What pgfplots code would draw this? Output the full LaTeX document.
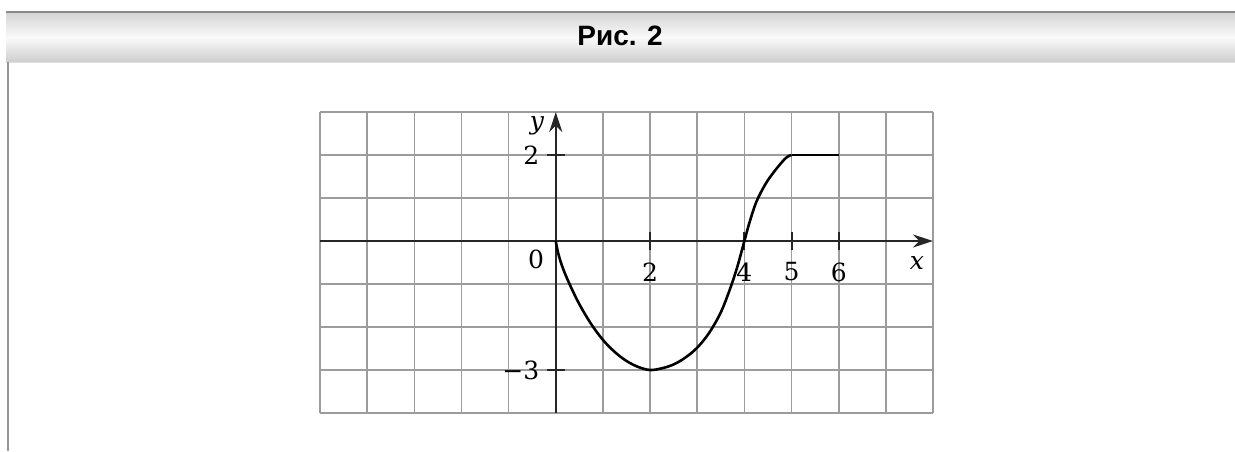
\documentclass[border=0pt]{standalone}
\usepackage{fontspec}
\usepackage{pgfplots}
\pgfplotsset{compat=1.18}
\usetikzlibrary{arrows.meta}
\newfontfamily\headfont{Liberation Sans}
\newfontfamily\lblfont{DejaVu Serif}
\definecolor{gridgray}{HTML}{9C9C9C}
\definecolor{barline}{HTML}{8A8A8A}
\begin{document}
\begin{tikzpicture}[x=1pt,y=1pt]
\path[use as bounding box] (0,0) rectangle (1235,451);
% header bar
\shade[top color=black!17, bottom color=black!20, middle color=black!2] (6,388) rectangle (1235,439);
\draw[barline, line width=2pt] (6,439) -- (1235,439);
\draw[black!12, line width=1pt] (6,388) -- (1235,388);
\draw[barline!90, line width=2pt] (8,389) -- (8,0);
\node[anchor=base, font=\headfont\bfseries\fontsize{28}{30}\selectfont] at (620,405) {Рис. 2};
\begin{axis}[
  at={(320pt,38pt)}, anchor=south west,
  scale only axis, width=613pt, height=301pt,
  xmin=-5, xmax=8, ymin=-4, ymax=3,
  axis lines=middle,
  axis line style={line width=2.2pt, black!85, -{Stealth[length=20pt,width=13pt]}},
  xtick={-5,...,8}, ytick={-4,...,3},
  xticklabels={}, yticklabels={},
  major tick length=0pt,
  grid=major,
  major grid style={gridgray, line width=1.6pt},
  extra x ticks={2,4,5,6},
  extra x tick labels={2,4,5,6},
  extra y ticks={-3,2},
  extra y tick labels={−3,2},
  extra tick style={grid=none, major tick length=18pt, tick style={line width=2pt, black!85}},
  xticklabel style={font=\lblfont\fontsize{25}{28}\selectfont, yshift=-9pt},
  yticklabel style={font=\lblfont\fontsize{25}{28}\selectfont, xshift=-4pt},
  xlabel={\itshape x}, ylabel={\itshape y},
  xlabel style={at={(axis cs:7.66,-0.51)}, anchor=center, font=\lblfont\fontsize{25}{28}\selectfont},
  ylabel style={at={(axis cs:-0.40,2.67)}, anchor=center, font=\lblfont\fontsize{25}{28}\selectfont},
  clip=false,
]
\addplot[black, line width=2.6pt, smooth, tension=0.55] coordinates {
 (0,0) (0.05,-0.28) (0.15,-0.63) (0.3,-1.02) (0.5,-1.47) (0.75,-1.93) (1.0,-2.30)
 (1.25,-2.58) (1.5,-2.79) (1.75,-2.93) (2,-3) (2.25,-2.96) (2.5,-2.87) (2.75,-2.71)
 (3,-2.48) (3.25,-2.14) (3.5,-1.66) (3.7,-1.1) (3.85,-0.6) (4,0) (4.1,0.4)
 (4.25,0.9) (4.45,1.33) (4.65,1.64) (4.85,1.9) (4.93,1.97) (5,2)};
\addplot[black, line width=2.6pt] coordinates {(5,2) (6,2)};
\node[anchor=center, font=\lblfont\fontsize{25}{28}\selectfont] at (axis cs:-0.42,-0.42) {0};
\end{axis}
\end{tikzpicture}
\end{document}
